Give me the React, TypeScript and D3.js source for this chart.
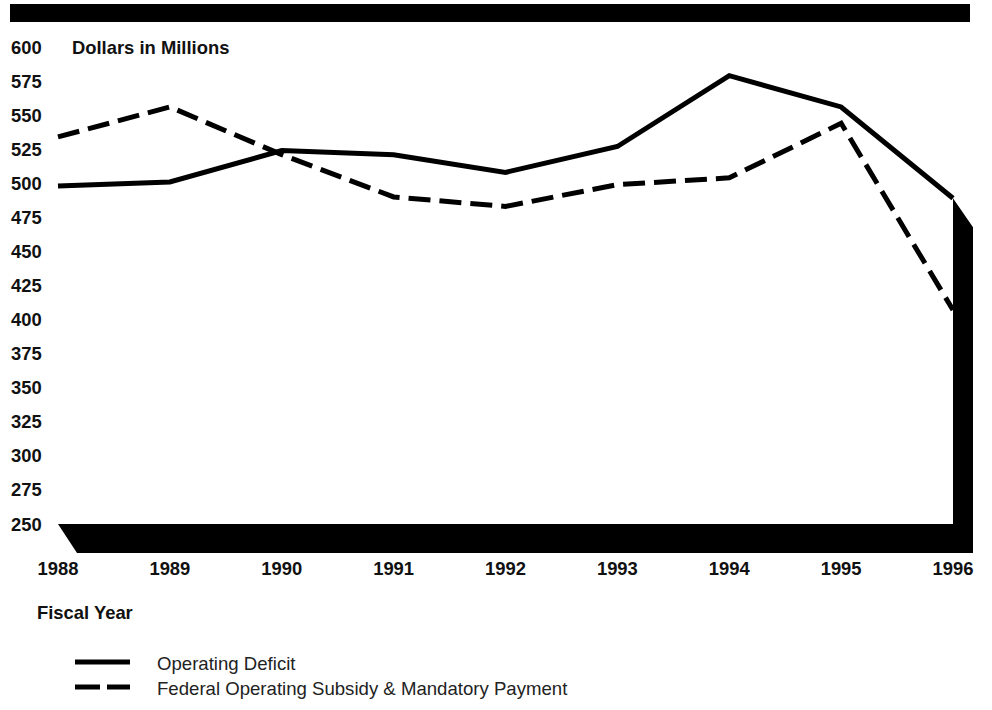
import React from "react";
import * as d3 from "d3";

const years = [1988, 1989, 1990, 1991, 1992, 1993, 1994, 1995, 1996];
const operatingDeficit = [498, 501, 524, 521, 508, 527, 579, 556, 489];
const federalSubsidy = [534, 556, 521, 490, 483, 499, 504, 544, 407];
const yTicks = [600, 575, 550, 525, 500, 475, 450, 425, 400, 375, 350, 325, 300, 275, 250];
const legendItems = ["Operating Deficit", "Federal Operating Subsidy & Mandatory Payment"];

const W = 992;
const H = 710;
const FONT = "'Liberation Sans', Arial, Helvetica, sans-serif";
const LABEL_SIZE = 18.4;

export default function App() {
  const x = d3.scaleLinear().domain([1988, 1996]).range([58, 953]);
  const y = d3.scaleLinear().domain([250, 600]).range([524, 47]);

  const line = d3
    .line<number>()
    .x((_, i) => x(years[i]))
    .y((d) => y(d));

  const x0 = x(1988);
  const x1 = x(1996);
  const yb = y(250);
  const yTop = y(operatingDeficit[operatingDeficit.length - 1]);
  const dx = 20;
  const dy = 29;
  const floorPts = [
    [x0, yb],
    [x1, yb],
    [x1, yTop],
    [x1 + dx, yTop + dy],
    [x1 + dx, yb + dy],
    [x0 + dx - 1, yb + dy],
  ];

  return (
    <svg
      width={W}
      height={H}
      style={{ position: "absolute", left: 0, top: 0, background: "#fff" }}
      fontFamily={FONT}
    >
      <rect x={10} y={4} width={960} height={18} fill="#000" />

      {yTicks.map((t) => (
        <text
          key={t}
          x={11}
          y={y(t)}
          dominantBaseline="central"
          fontSize={LABEL_SIZE}
          fontWeight="bold"
          fill="#111"
        >
          {t}
        </text>
      ))}
      <text x={72} y={y(600)} dominantBaseline="central" fontSize={LABEL_SIZE} fontWeight="bold" fill="#111">
        Dollars in Millions
      </text>

      <polygon points={floorPts.map((p) => p.join(",")).join(" ")} fill="#000" />

      <path d={line(operatingDeficit) || ""} fill="none" stroke="#000" strokeWidth={5} strokeLinejoin="miter" />
      <path
        d={line(federalSubsidy) || ""}
        fill="none"
        stroke="#000"
        strokeWidth={5}
        strokeDasharray="22,9"
        strokeLinejoin="miter"
      />

      {years.map((yr) => (
        <text
          key={yr}
          x={x(yr)}
          y={568}
          textAnchor="middle"
          dominantBaseline="central"
          fontSize={LABEL_SIZE}
          fontWeight="bold"
          fill="#111"
        >
          {yr}
        </text>
      ))}
      <text x={37} y={612} dominantBaseline="central" fontSize={LABEL_SIZE} fontWeight="bold" fill="#111">
        Fiscal Year
      </text>

      {legendItems.map((label, i) => {
        const ly = 662 + i * 25;
        return (
          <g key={label}>
            <line
              x1={75}
              x2={130}
              y1={ly}
              y2={ly}
              stroke="#000"
              strokeWidth={5}
              strokeDasharray={i === 1 ? "25,7" : undefined}
            />
            <text x={157} y={ly + 1} dominantBaseline="central" fontSize={18.6} fill="#222">
              {label}
            </text>
          </g>
        );
      })}
    </svg>
  );
}
